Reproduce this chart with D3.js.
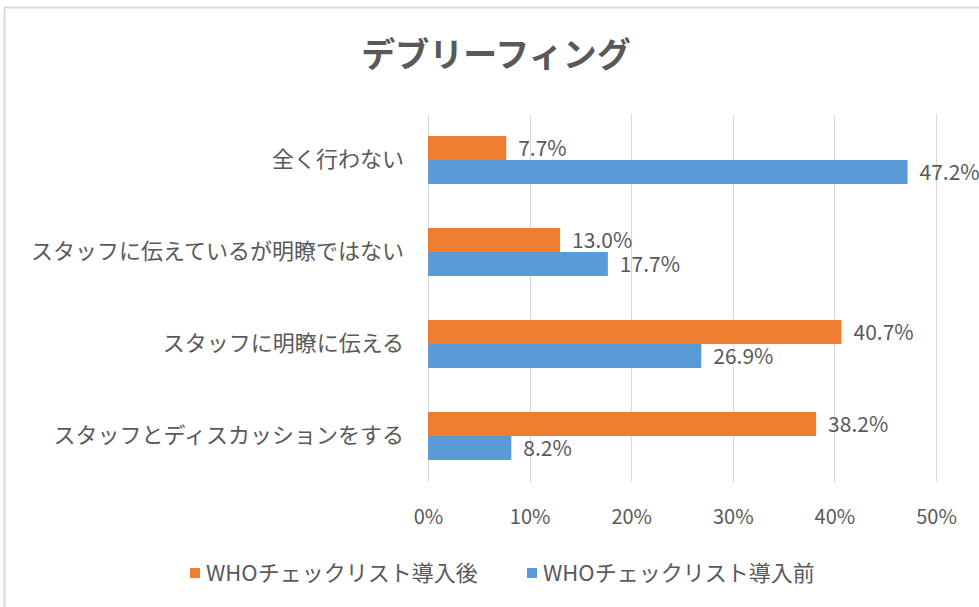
<!DOCTYPE html>
<html>
<head>
<meta charset="utf-8">
<script src="https://cdn.jsdelivr.net/npm/d3@7"></script>
<style>
  body { margin: 0; background: #fff; }
  text { font-family: "Noto Sans CJK JP", "Noto Sans", sans-serif; fill: #595959; }
</style>
</head>
<body>
<script>
// data
var categories = ["全く行わない", "スタッフに伝えているが明瞭ではない", "スタッフに明瞭に伝える", "スタッフとディスカッションをする"];
var seriesNames = ["WHOチェックリスト導入後", "WHOチェックリスト導入前"];
var afterValues = [7.7, 13.0, 40.7, 38.2];
var beforeValues = [47.2, 17.7, 26.9, 8.2];
var tickValues = [0, 10, 20, 30, 40, 50];
var colors = ["#ED7D31", "#5B9BD5"];

// plot area
var w = 979, h = 607;
var plotLeft = 428, plotRight = 936, plotTop = 114, plotBottom = 482;

var svg = d3.select("body").append("svg")
    .attr("width", w)
    .attr("height", h);

// outer frame (only top and left edge are visible)
svg.append("path")
    .attr("d", "M4.5," + h + "V7.5H" + w)
    .attr("fill", "none")
    .attr("stroke", "#D9D9D9")
    .attr("stroke-width", 2);

// title
svg.append("text")
    .attr("x", 496)
    .attr("y", 67)
    .attr("text-anchor", "middle")
    .style("font-size", "34px")
    .style("font-weight", "bold")
    .text("デブリーフィング");

// scales
var x = d3.scaleLinear().domain([0, 50]).range([plotLeft, plotRight]);
var y = d3.scaleBand().domain(categories).range([plotTop, plotBottom]).paddingInner(0.478).paddingOuter(0.239);
var ySub = d3.scaleBand().domain(seriesNames).range([0, y.bandwidth()]);

// gridlines
svg.append("g")
    .selectAll("line")
    .data(tickValues)
    .enter()
    .append("line")
    .attr("x1", function(d) { return Math.round(x(d)) + 0.5; })
    .attr("x2", function(d) { return Math.round(x(d)) + 0.5; })
    .attr("y1", plotTop)
    .attr("y2", plotBottom)
    .attr("stroke", "#D9D9D9")
    .attr("stroke-width", 1);

// x tick labels
var xAxis = d3.axisBottom(x)
    .tickValues(tickValues)
    .tickSize(0)
    .tickPadding(0)
    .tickFormat(function(d) { return d + "%"; });

var gx = svg.append("g")
    .attr("transform", "translate(0,517)")
    .call(xAxis);
gx.select(".domain").remove();
gx.attr("font-family", null).attr("font-size", null);
gx.selectAll("text")
    .attr("y", 0)
    .attr("dy", "0.36em")
    .attr("fill", null)
    .style("font-size", "20px");

// category labels
var yAxis = d3.axisLeft(y).tickSize(0).tickPadding(24);
var gy = svg.append("g")
    .attr("transform", "translate(" + plotLeft + ",0)")
    .call(yAxis);
gy.select(".domain").remove();
gy.attr("font-family", null).attr("font-size", null);
gy.selectAll("text")
    .attr("fill", null)
    .style("font-size", "22px");

// bars
var flat = [];
categories.forEach(function(c, i) {
    flat.push({ cat: c, s: seriesNames[0], v: afterValues[i], color: colors[0] });
    flat.push({ cat: c, s: seriesNames[1], v: beforeValues[i], color: colors[1] });
});

svg.append("g")
    .selectAll("rect")
    .data(flat)
    .enter()
    .append("rect")
    .attr("x", x(0))
    .attr("y", function(d) { return y(d.cat) + ySub(d.s); })
    .attr("width", function(d) { return x(d.v) - x(0); })
    .attr("height", ySub.bandwidth())
    .attr("fill", function(d) { return d.color; });

// data labels
svg.append("g")
    .selectAll("text")
    .data(flat)
    .enter()
    .append("text")
    .attr("x", function(d) { return x(d.v) + 12; })
    .attr("y", function(d) { return y(d.cat) + ySub(d.s) + ySub.bandwidth() / 2; })
    .attr("dy", "0.36em")
    .style("font-size", "21px")
    .text(function(d) { return d.v.toFixed(1) + "%"; });

// legend
var legendX = [190, 527];
var leg = svg.append("g")
    .selectAll("g")
    .data(seriesNames)
    .enter()
    .append("g")
    .attr("transform", function(d, i) { return "translate(" + legendX[i] + ",573)"; });

leg.append("rect")
    .attr("x", 0)
    .attr("y", -5)
    .attr("width", 10)
    .attr("height", 10)
    .attr("fill", function(d, i) { return colors[i]; });

leg.append("text")
    .attr("x", 16)
    .attr("y", 0)
    .attr("dy", "0.36em")
    .style("font-size", "22px")
    .text(function(d) { return d; });
</script>
</body>
</html>
